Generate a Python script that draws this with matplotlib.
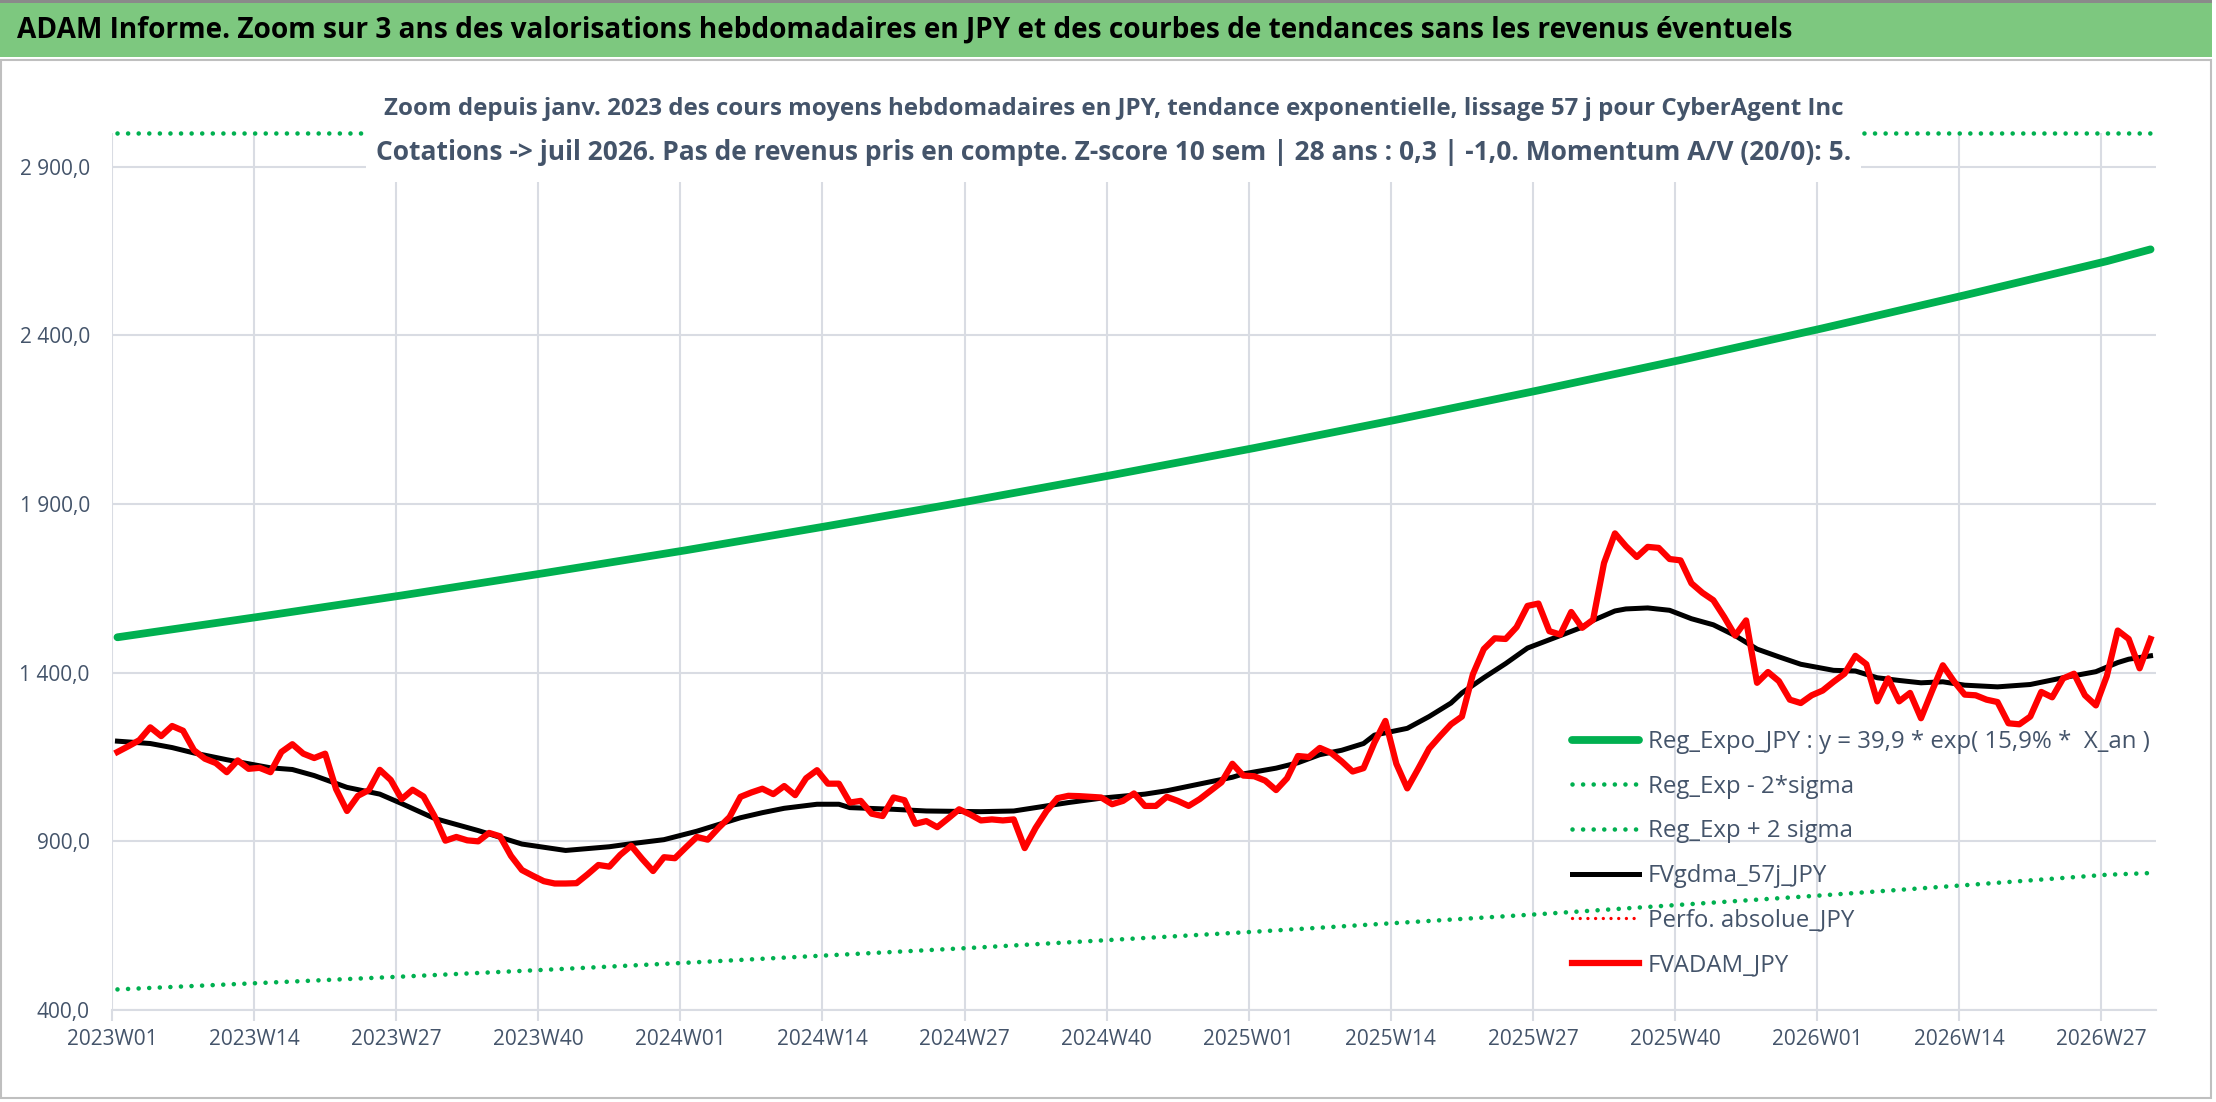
import matplotlib
matplotlib.use("Agg")
import matplotlib.pyplot as plt
from matplotlib import font_manager
from matplotlib.patches import Rectangle
import numpy as np

# ── Data ──────────────────────────────────────────────────────────────────────
TICK_LABELS = [
    "2023W01", "2023W14", "2023W27", "2023W40",
    "2024W01", "2024W14", "2024W27", "2024W40",
    "2025W01", "2025W14", "2025W27", "2025W40",
    "2026W01", "2026W14", "2026W27",
]

# weekly FVADAM_JPY, 2023W01 .. 2026W31
FV_ADAM = [
    1165, 1182, 1200, 1238, 1212, 1242, 1228, 1170, 1145, 1132,
    1105, 1140, 1115, 1118, 1105, 1165, 1188, 1160, 1147, 1160,
    1055, 990, 1035, 1052, 1112, 1082, 1025, 1053, 1033, 975,
    902, 913, 903, 900, 925, 915, 857, 815, 798, 782,
    775, 775, 776, 802, 830, 825, 860, 887, 848, 812,
    853, 850, 882, 913, 905, 940, 972, 1032, 1045, 1056,
    1040, 1064, 1037, 1087, 1111, 1071, 1071, 1015, 1020, 982,
    975, 1030, 1022, 952, 960, 942, 968, 995, 980, 962,
    965, 962, 965, 880, 940, 990, 1028, 1035, 1034, 1032,
    1030, 1010, 1020, 1042, 1005, 1005, 1032, 1020, 1005, 1025,
    1050, 1075, 1130, 1095, 1093, 1080, 1052, 1087, 1153, 1150,
    1177, 1163, 1137, 1107, 1117, 1193, 1257, 1130, 1057, 1115,
    1175, 1212, 1247, 1270, 1395, 1470, 1502, 1500, 1535, 1598,
    1605, 1523, 1513, 1580, 1533, 1557, 1725, 1813, 1775, 1743,
    1773, 1770, 1737, 1733, 1665, 1637, 1615, 1565, 1510, 1555,
    1370, 1402, 1375, 1320, 1310, 1333, 1347, 1373, 1397, 1450,
    1425, 1315, 1383, 1315, 1340, 1265, 1345, 1422, 1375, 1335,
    1333, 1320, 1313, 1250, 1247, 1270, 1343, 1327, 1383, 1397,
    1333, 1303, 1390, 1525, 1500, 1413, 1500,
]

# FVgdma_57j_JPY (smoothed), sampled weeks
MA_WEEKS = [
    0, 3, 5, 7, 10, 12, 14, 16, 18, 21, 24, 26, 29, 33, 37, 41, 45, 47,
    50, 53, 57, 59, 61, 64, 66, 67, 71, 74, 79, 82, 85, 87, 90, 94, 96, 99,
    102, 103, 106, 108, 110, 112, 114, 115, 118, 120, 122, 123, 125, 127,
    129, 132, 134, 135, 137, 138, 140, 142, 144, 146, 148, 150, 152, 154,
    157, 159, 161, 163, 165, 167, 169, 172, 175, 178, 181, 183, 184, 186,
]
MA_VALUES = [
    1197, 1190, 1178, 1162, 1142, 1130, 1118, 1113, 1095, 1060, 1040, 1012,
    968, 932, 892, 873, 884, 893,
    905, 930, 970, 985, 998, 1010, 1010, 1000, 995, 990, 988, 990, 1005,
    1015, 1028, 1040, 1050, 1070,
    1090, 1100, 1117, 1133, 1157, 1170, 1190, 1215, 1235, 1270, 1310, 1340,
    1385, 1427,
    1473, 1510, 1535, 1555, 1583, 1589, 1592, 1585, 1560, 1542, 1510, 1470,
    1447, 1425,
    1407, 1405, 1385, 1377, 1370, 1373, 1363, 1358, 1365, 1385, 1403, 1430,
    1440, 1450,
]

# exponential regression and +/- 2 sigma bands, sampled weeks
TREND_WEEKS = [0, 13, 26, 39, 52, 65, 78, 91, 104, 117, 130, 143, 156, 169, 182, 186]
REG_EXPO = [1505, 1566, 1629, 1695, 1763, 1835, 1909, 1986, 2066, 2150, 2237,
            2327, 2421, 2519, 2620, 2655]
REG_LOW = [461, 480, 499, 519, 540, 562, 584, 608, 632, 658, 684, 712, 740,
           770, 801, 806]
REG_HIGH = [4906, 5105, 5311, 5526, 5747, 5982, 6223, 6474, 6735, 7009, 7292,
            7586, 7892, 8212, 8541, 8655]

TITLE = ("ADAM Informe. Zoom sur 3 ans des valorisations hebdomadaires en JPY "
         "et des courbes de tendances sans les revenus éventuels")
SUB_1 = ("Zoom depuis janv. 2023 des cours moyens hebdomadaires en JPY, tendance "
         "exponentielle, lissage 57 j pour CyberAgent Inc")
SUB_2 = ("Cotations -> juil 2026. Pas de revenus pris en compte. Z-score 10 sem | "
         "28 ans : 0,3 | -1,0. Momentum A/V (20/0): 5.")

# ── Style ─────────────────────────────────────────────────────────────────────
W, H = 2216, 1102
Y_MIN, Y_MAX = 400, 3000
TEXT = "#44546A"
GRID = "#D9DCE3"
GREEN = "#00B050"
RED = "#FF0000"
DOTS = (0, (0.01, 2.3))

available = {f.name for f in font_manager.fontManager.ttflist}
FONT = next(f for f in ["Liberation Sans Narrow", "Open Sans", "DejaVu Sans"]
            if f in available)
plt.rcParams["font.family"] = [FONT, "DejaVu Sans"]


def fx(px):
    return px / W


def fy(py):
    return 1 - py / H


fig = plt.figure(figsize=(W / 100, H / 100), dpi=100)

# frame + title band
fig.patches.append(Rectangle((fx(1), fy(1098)), fx(2210), (1098 - 60) / H,
                             transform=fig.transFigure, fc="white",
                             ec="#BFBFBF", lw=1.5, zorder=-3))
fig.patches.append(Rectangle((0, fy(57)), fx(2212), 54 / H,
                             transform=fig.transFigure, fc="#7DC87F",
                             ec="none", zorder=-2))
fig.patches.append(Rectangle((0, fy(3)), fx(2212), 3 / H,
                             transform=fig.transFigure, fc="#8A8A8A",
                             ec="none", zorder=-2))
fig.text(fx(17), fy(30), TITLE, fontsize=20.2, fontweight="bold", color="black",
         va="center", ha="left")

ax = fig.add_axes([fx(112), fy(1010), fx(2156 - 112), (1010 - 133) / H])

x_week = np.arange(len(FV_ADAM)) + 0.5
x_trend = np.array(TREND_WEEKS) + 0.5
x_ma = np.array(MA_WEEKS) + 0.5

ax.plot(x_trend, REG_EXPO, color=GREEN, lw=5.6, solid_capstyle="round",
        label="Reg_Expo_JPY : y = 39,9 * exp( 15,9% *  X_an )")
ax.plot(x_trend, REG_LOW, color=GREEN, lw=3.3, linestyle=DOTS,
        dash_capstyle="round", label="Reg_Exp - 2*sigma")
# the +2 sigma band lies above the axis max: drawn pinned on the top edge
ax.plot(x_trend, np.minimum(REG_HIGH, Y_MAX), color=GREEN, lw=3.3,
        linestyle=DOTS, dash_capstyle="round", clip_on=False,
        label="Reg_Exp + 2 sigma")
ax.plot(x_ma, MA_VALUES, color="black", lw=3.6, label="FVgdma_57j_JPY")
ax.plot([], [], color=RED, lw=2.4, linestyle=DOTS, dash_capstyle="round",
        label="Perfo. absolue_JPY")
ax.plot(x_week, FV_ADAM, color=RED, lw=4.5, label="FVADAM_JPY")

ax.set_xlim(0, len(FV_ADAM))
ax.set_ylim(Y_MIN, Y_MAX)
ax.set_xticks(np.arange(0, 13 * len(TICK_LABELS), 13))
ax.set_xticklabels(TICK_LABELS)
yt = np.arange(400, 3000, 500)
ax.set_yticks(yt)
ax.set_yticklabels([f"{v:,.1f}".replace(",", " ").replace(".", ",") for v in yt])

ax.grid(True, color=GRID, lw=1.5)
ax.set_axisbelow(True)
for side in ["top", "right", "left"]:
    ax.spines[side].set_visible(False)
ax.spines["bottom"].set_color(GRID)
ax.spines["bottom"].set_linewidth(1.5)
ax.tick_params(axis="x", length=8, width=1.5, color=GRID, pad=6,
               labelsize=15, labelcolor=TEXT)
ax.tick_params(axis="y", length=0, pad=16, labelsize=15, labelcolor=TEXT)

leg = ax.legend(loc="upper left", bbox_to_anchor=(fx(1572), fy(730)),
                bbox_transform=fig.transFigure, frameon=False, fontsize=17.3,
                labelcolor=TEXT, handlelength=2.8, handletextpad=0.35,
                labelspacing=0.86, borderpad=0, borderaxespad=0)

# subtitle box over the top of the plot
fig.patches.append(Rectangle((fx(366), fy(182)), fx(1861 - 366), (182 - 80) / H,
                             transform=fig.transFigure, fc="white", ec="none",
                             zorder=5))
fig.text(fx(1114), fy(109), SUB_1, fontsize=17.3, fontweight="bold", color=TEXT,
         ha="center", va="center", zorder=6)
fig.text(fx(1114), fy(153), SUB_2, fontsize=19, fontweight="bold", color=TEXT,
         ha="center", va="center", zorder=6)

fig.savefig("out.png", dpi=100)
